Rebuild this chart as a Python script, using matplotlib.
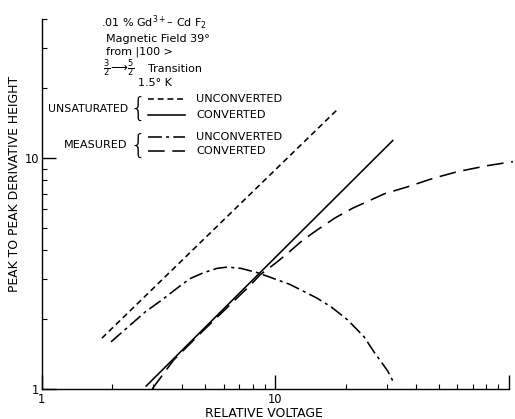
import matplotlib
matplotlib.use("Agg")
import matplotlib.pyplot as plt
from matplotlib.lines import Line2D
from matplotlib.ticker import FixedLocator, FixedFormatter, NullFormatter

plt.rcParams['font.family'] = ['DejaVu Sans']
plt.rcParams['lines.scale_dashes'] = False

# ---- data ----
unsat_unconv_x = [1.81, 18.3]
unsat_unconv_y = [1.66, 16.1]

unsat_conv_x = [2.80, 31.8]
unsat_conv_y = [1.03, 11.9]

meas_unconv_x = [1.98, 2.78, 3.27, 3.92, 4.33, 4.94, 5.64, 6.22, 7.10, 8.37, 9.55,
                 11.5, 13.1, 15.0, 17.3, 20.4, 24.0, 26.4, 28.4, 30.2, 31.9]
meas_unconv_y = [1.60, 2.16, 2.43, 2.80, 3.01, 3.19, 3.33, 3.37, 3.33, 3.19, 3.04,
                 2.84, 2.66, 2.48, 2.27, 1.99, 1.68, 1.45, 1.31, 1.20, 1.08]

meas_conv_x = [2.97, 3.67, 5.0, 7.83, 8.6, 10.0, 11.3, 13.0, 15.1, 18.0, 21.4, 29.3, 36.9, 48.0, 60.4, 80.0, 104.0]
meas_conv_y = [1.00, 1.335, 1.82, 2.82, 3.12, 3.50, 3.87, 4.38, 4.88, 5.50, 6.06, 7.0, 7.51, 8.20, 8.73, 9.25, 9.64]

x_major = [1, 10, 100]
x_major_labels = ["1", "10", ""]
y_major = [1, 10]
y_major_labels = ["1", "10"]

W, H = 515, 419
fig = plt.figure(figsize=(W / 100, H / 100), dpi=100)
L, R, B, T = 41.7, 509.0, 389.0, 18.9
ax = fig.add_axes([L / W, 1 - B / H, (R - L) / W, (B - T) / H])

ax.set_xscale('log')
ax.set_yscale('log')
ax.set_xlim(1, 100)
ax.set_ylim(1, 40)

lw = 1.15
DASH_S = (4.2, 2.8)
DASH_DOT = (10, 3, 2.2, 3)
DASH_L = (12, 5.5)
ax.plot(unsat_unconv_x, unsat_unconv_y, color='black', lw=lw, dashes=DASH_S)
ax.plot(unsat_conv_x, unsat_conv_y, color='black', lw=lw, ls='-')
ax.plot(meas_unconv_x, meas_unconv_y, color='black', lw=lw, dashes=DASH_DOT)
ax.plot(meas_conv_x, meas_conv_y, color='black', lw=lw, dashes=DASH_L, clip_on=False)

for s in ['top', 'right']:
    ax.spines[s].set_visible(False)
for s in ['left', 'bottom']:
    ax.spines[s].set_linewidth(1.0)

ax.xaxis.set_major_locator(FixedLocator(x_major))
ax.xaxis.set_major_formatter(FixedFormatter(x_major_labels))
ax.yaxis.set_major_locator(FixedLocator(y_major))
ax.yaxis.set_major_formatter(FixedFormatter(y_major_labels))
ax.xaxis.set_minor_formatter(NullFormatter())
ax.yaxis.set_minor_formatter(NullFormatter())

ax.tick_params(which='major', direction='in', length=10, width=1.0, labelsize=8.3, pad=3)
ax.tick_params(which='minor', direction='in', length=3.8, width=0.8)
ax.tick_params(axis='y', which='major', pad=2)

def fx(px):
    return px / W

def fy(py):
    return 1 - py / H

fig.text(fx(15), fy(184), "PEAK TO PEAK DERIVATIVE HEIGHT", rotation=90,
         ha='center', va='center', fontsize=8.9)
fig.text(fx(264), fy(413), "RELATIVE VOLTAGE", ha='center', va='center', fontsize=8.9)

ts = 8.0
fig.text(fx(101), fy(23), ".01 % Gd$^{3+}$– Cd F$_2$", ha='left', va='center', fontsize=ts)
fig.text(fx(106), fy(38.5), "Magnetic Field 39°", ha='left', va='center', fontsize=ts)
fig.text(fx(106), fy(52), "from |100 >", ha='left', va='center', fontsize=ts)
fig.text(fx(103), fy(68.5), r"$\frac{3}{2}\!\longrightarrow\!\frac{5}{2}$", ha='left', va='center', fontsize=8.5)
fig.text(fx(148), fy(68.5), "Transition", ha='left', va='center', fontsize=ts)
fig.text(fx(138), fy(82.5), "1.5° K", ha='left', va='center', fontsize=ts)

ls_ = 8.1
fig.text(fx(128), fy(109), "UNSATURATED", ha='right', va='center', fontsize=7.8)
fig.text(fx(127), fy(145.5), "MEASURED", ha='right', va='center', fontsize=ls_)
fig.text(fx(138), fy(108), "{", ha='center', va='center', fontsize=19, fontweight='light')
fig.text(fx(138), fy(145), "{", ha='center', va='center', fontsize=19, fontweight='light')

legend_items = [
    (99.5, dict(dashes=DASH_S), "UNCONVERTED"),
    (115, dict(ls='-'), "CONVERTED"),
    (136.5, dict(dashes=DASH_DOT), "UNCONVERTED"),
    (151.5, dict(dashes=DASH_L), "CONVERTED"),
]
for py, style, label in legend_items:
    fig.add_artist(Line2D([fx(148), fx(185)], [fy(py), fy(py)], color='black',
                          lw=lw, transform=fig.transFigure, **style))
    fig.text(fx(196), fy(py), label, ha='left', va='center', fontsize=ls_)

fig.savefig("out.png", dpi=100)
